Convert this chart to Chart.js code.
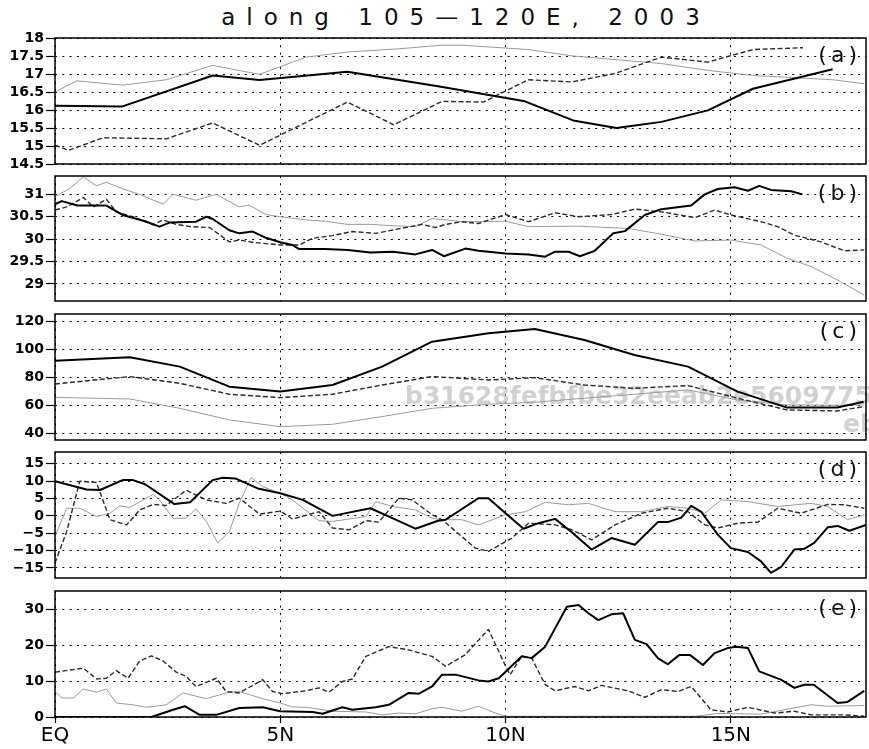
<!DOCTYPE html>
<html>
<head>
<meta charset="utf-8">
<script src="https://cdn.jsdelivr.net/npm/chart.js@4.4.1/dist/chart.umd.min.js"></script>
<style>
  body { margin: 0; background: #fff; width: 869px; height: 749px; position: relative; overflow: hidden; }
  #title { position: absolute; left: 55px; top: 4px; width: 811px; padding-left: 11px; box-sizing: border-box;
           text-align: center; font: 23px "DejaVu Sans"; letter-spacing: 11px; color: #111; white-space: nowrap; }
  canvas { position: absolute; left: 0; }
</style>
</head>
<body>
<div id="title">along 105—120E, 2003</div>
<canvas id="pa"></canvas>
<canvas id="pb"></canvas>
<canvas id="pc"></canvas>
<canvas id="pd"></canvas>
<canvas id="pe"></canvas>
<script>
// x axis: latitude along 105-120E
const xTicks = [0, 5, 10, 15];
const xLabels = ["EQ", "5N", "10N", "15N"];

// (a)
const yTicksA = [14.5, 15, 15.5, 16, 16.5, 17, 17.5, 18];
const aBlackLat = [0, 1.5, 3.5, 4.54, 6.49, 8.5, 10.43, 11.5, 12.46, 13.46, 14.49, 15.49, 17.26];
const aBlack = [16.12, 16.1, 16.96, 16.83, 17.06, 16.66, 16.24, 15.71, 15.5, 15.67, 15.99, 16.59, 17.13];
const aDashLat = [0, 0.3, 1.07, 2.47, 3.5, 4.54, 6.49, 7.52, 8.59, 9.51, 10.5, 11.47, 12.42, 13.46, 14.49, 15.49, 16.6];
const aDash = [15.02, 14.88, 15.23, 15.2, 15.64, 15.02, 16.22, 15.59, 16.24, 16.22, 16.84, 16.78, 17.01, 17.47, 17.33, 17.68, 17.73];
const aGrayLat = [0, 0.48, 1.5, 2.47, 3.5, 4.54, 5.57, 6.49, 7.63, 8.59, 9.03, 10.5, 11.5, 13.46, 14.49, 15.49, 17.26, 17.96];
const aGray = [16.5, 16.81, 16.69, 16.84, 17.24, 16.99, 17.47, 17.61, 17.7, 17.8, 17.8, 17.68, 17.5, 17.29, 17.1, 16.96, 16.84, 16.73];

// (b)
const yTicksB = [29, 29.5, 30, 30.5, 31];
const bBlackLat = [0, 0.15, 0.5, 1.14, 1.5, 2.0, 2.32, 2.54, 3.13, 3.36, 3.5, 3.87, 4.09, 4.39, 4.68, 5.0, 5.27, 5.42, 6.0, 6.5, 7.0, 7.5, 8.0, 8.37, 8.63, 9.11, 9.4, 10.0, 10.51, 10.88, 11.1, 11.4, 11.65, 11.98, 12.39, 12.65, 13.09, 13.46, 14.12, 14.42, 14.71, 15.08, 15.38, 15.63, 15.89, 16.34, 16.59];
const bBlack = [30.78, 30.85, 30.75, 30.75, 30.54, 30.4, 30.28, 30.37, 30.39, 30.5, 30.45, 30.2, 30.13, 30.17, 30.03, 29.93, 29.87, 29.78, 29.78, 29.76, 29.7, 29.72, 29.66, 29.76, 29.62, 29.79, 29.74, 29.68, 29.66, 29.61, 29.72, 29.72, 29.62, 29.74, 30.13, 30.18, 30.54, 30.67, 30.75, 31.0, 31.12, 31.16, 31.08, 31.19, 31.1, 31.07, 31.0];
const bDashLat = [0, 0.26, 0.63, 0.85, 1.14, 1.36, 1.73, 2.18, 2.4, 2.69, 3.0, 3.43, 3.87, 4.09, 4.39, 5.0, 5.42, 5.72, 6.16, 6.6, 7.12, 7.63, 8.15, 8.44, 8.67, 9.03, 9.4, 10.0, 10.51, 11.1, 11.62, 12.35, 12.87, 13.46, 14.2, 14.64, 15.0, 15.67, 16.04, 16.41, 17.0, 17.52, 17.96];
const bDash = [30.65, 30.72, 30.93, 30.72, 30.89, 30.61, 30.5, 30.32, 30.43, 30.33, 30.28, 30.26, 29.94, 29.98, 29.93, 29.87, 29.87, 30.02, 30.08, 30.17, 30.13, 30.23, 30.33, 30.26, 30.33, 30.39, 30.35, 30.55, 30.39, 30.59, 30.5, 30.55, 30.67, 30.61, 30.48, 30.65, 30.54, 30.39, 30.28, 30.09, 29.94, 29.74, 29.76];
const bGrayLat = [0, 0.33, 0.63, 0.92, 1.14, 1.51, 1.88, 2.4, 2.62, 3.13, 3.58, 4.09, 4.31, 4.68, 5.0, 5.57, 6.0, 6.5, 7.0, 7.5, 8.0, 8.37, 8.7, 9.03, 10.0, 10.51, 11.62, 12.72, 13.46, 14.2, 15.0, 15.67, 16.26, 16.78, 17.29, 17.96];
const bGray = [30.95, 31.13, 31.39, 31.19, 31.27, 31.12, 31.0, 30.78, 31.0, 30.87, 31.0, 30.72, 30.76, 30.55, 30.5, 30.43, 30.4, 30.33, 30.33, 30.3, 30.28, 30.46, 30.43, 30.39, 30.4, 30.28, 30.29, 30.24, 30.11, 29.96, 29.98, 29.87, 29.57, 29.39, 29.13, 28.75];

// (c)
const yTicksC = [40, 60, 80, 100, 120];
const cLat = [0, 1.66, 2.77, 3.87, 5.0, 6.16, 7.26, 8.37, 9.62, 10.65, 11.75, 12.86, 14.05, 15.15, 16.25, 17.36, 17.95];
const cBlack = [91.7, 94.1, 87.5, 73.2, 69.7, 74.4, 87.5, 105.3, 111.2, 114.3, 106.5, 95.8, 87.5, 69.7, 58.3, 58.3, 62.5];
const cDash = [75.1, 80.4, 75.6, 67.8, 65.4, 67.8, 74.4, 80.4, 78, 79.6, 74.4, 72, 74, 65, 56.6, 55.9, 59];
const cGray = [65.6, 64.4, 57.8, 49.5, 44.7, 46.4, 51.9, 57.8, 60.7, 62.1, 65, 67.8, 70.9, 63.7, 60.2, 60, 60.2];

// (d)
const yTicksD = [-15, -10, -5, 0, 5, 10, 15];
const dBlackLat = [0, 0.7, 1.0, 1.5, 1.73, 2.0, 2.65, 3.0, 3.5, 3.72, 4.0, 4.5, 5.0, 5.5, 6.16, 7.0, 7.5, 8.0, 8.5, 8.67, 9.0, 9.4, 9.62, 10.0, 10.4, 10.73, 11.1, 11.47, 11.91, 12.35, 12.87, 13.38, 13.6, 13.9, 14.12, 14.34, 14.71, 15.0, 15.38, 15.67, 15.89, 16.11, 16.41, 16.63, 16.85, 17.15, 17.37, 17.63, 18.0];
const dBlack = [10, 7.6, 7.45, 10.3, 10.3, 9.1, 3.4, 3.9, 10.3, 11, 10.8, 7.9, 6.5, 4.6, 0, 2.2, -0.7, -3.7, -1.4, -1.1, 1.7, 5.1, 5.1, 0.76, -3.7, -2.1, -0.86, -4.7, -9.7, -6.4, -8.3, -1.8, -1.8, -0.5, 2.9, 1.2, -5.4, -9.3, -10.4, -13.1, -16.4, -14.8, -9.7, -9.5, -7.8, -3.3, -2.9, -4.3, -2.6];
const dDashLat = [0, 0.26, 0.55, 0.92, 1.22, 1.59, 1.88, 2.18, 2.47, 2.91, 3.36, 3.8, 4.09, 4.54, 5.0, 5.27, 5.86, 6.16, 6.53, 6.9, 7.19, 7.63, 7.93, 8.37, 8.59, 9.33, 9.62, 10.14, 10.51, 11.1, 11.47, 11.91, 12.43, 13.02, 13.6, 14.05, 14.42, 14.71, 15.16, 15.6, 16.04, 16.56, 17.15, 17.52, 17.96];
const dDash = [-13.6, -4.5, 10, 9.6, -1.1, -2.6, 1.7, 3.3, 3.0, 7.4, 4.6, 3.6, 5.1, 0.5, 1.4, -0.9, 1.2, -3.5, -4.0, -1.4, -1.8, 5.1, 4.6, 0.3, -1.1, -9.3, -10.2, -6.4, -2.1, -2.6, -4.0, -6.9, -2.6, 0.76, 2.2, 1.2, -2.6, -3.5, -2.1, -1.8, 2.2, 0.76, 3.3, 3.2, 2.2];
const dGrayLat = [0, 0.26, 0.55, 0.92, 1.22, 1.44, 1.66, 2.18, 2.32, 2.62, 2.91, 3.13, 3.36, 3.61, 3.87, 4.09, 4.35, 4.61, 5.0, 5.27, 5.86, 6.16, 6.53, 6.9, 7.12, 7.49, 8.0, 8.37, 8.59, 9.03, 9.4, 10.0, 10.44, 10.88, 11.4, 11.84, 12.43, 13.02, 13.6, 14.05, 14.42, 14.79, 15.38, 16.04, 16.78, 17.15, 17.59, 17.96];
const dGray = [-5.9, 2.2, 2.2, -0.2, 0.76, 2.9, 2.4, 6.2, 4.6, -0.7, -0.7, 2.0, -1.6, -7.8, -4.5, 3.6, 11, 8.4, 6.5, 4.6, -1.4, -1.6, -0.9, -0.2, 4.1, 2.7, 1.7, -0.7, -1.1, -1.1, -2.6, 0.3, 1.2, 3.9, 3.2, 3.6, 1.2, 1.2, 2.7, 2.2, 0.76, 4.6, 4.1, 2.7, 3.6, 2.7, -1.1, 0.3];

// (e)
const yTicksE = [0, 10, 20, 30];
const eBlackLat = [0, 2.14, 2.62, 2.88, 3.21, 3.58, 4.09, 4.61, 5.0, 5.72, 5.94, 6.38, 6.6, 7.12, 7.41, 7.85, 8.08, 8.37, 8.59, 8.89, 9.4, 9.62, 9.85, 10.36, 10.58, 10.88, 11.36, 11.62, 11.84, 12.06, 12.35, 12.61, 12.87, 13.13, 13.38, 13.6, 13.86, 14.09, 14.38, 14.64, 14.93, 15.12, 15.38, 15.63, 16.11, 16.41, 16.63, 16.84, 17.37, 17.59, 17.96];
const eBlack = [0, 0, 2.0, 3.0, 0.6, 0.6, 2.5, 2.7, 1.6, 1.4, 0.9, 2.7, 2.0, 2.7, 3.4, 6.7, 6.5, 8.5, 11.8, 11.8, 10.2, 9.9, 10.8, 16.9, 16.4, 19.6, 30.7, 31.2, 28.9, 27.0, 28.6, 28.9, 21.5, 20.3, 16.4, 14.7, 17.3, 17.3, 14.5, 17.8, 19.2, 19.6, 19.2, 12.7, 10.4, 8.1, 9.0, 9.0, 3.9, 4.2, 7.3];
const eDashLat = [0, 0.63, 0.92, 1.14, 1.36, 1.62, 1.88, 2.14, 2.4, 2.69, 2.91, 3.13, 3.58, 3.8, 4.09, 4.61, 4.83, 5.05, 5.57, 5.86, 6.08, 6.38, 6.6, 6.9, 7.41, 7.85, 8.37, 8.67, 9.1, 9.62, 9.99, 10.1, 10.36, 10.58, 10.88, 11.1, 11.54, 11.84, 12.13, 12.72, 13.09, 13.46, 13.83, 14.12, 14.56, 14.93, 15.38, 15.97, 16.41, 16.78, 17.52, 17.96];
const eDash = [12.5, 13.6, 10.6, 10.8, 12.9, 10.8, 15.6, 17.0, 15.6, 12.5, 11.3, 8.5, 10.8, 7.1, 6.7, 10.4, 7.1, 6.5, 7.3, 8.1, 6.9, 9.9, 10.6, 16.9, 19.6, 18.7, 16.9, 14.1, 17.3, 24.4, 14.5, 11.8, 16.9, 16.4, 9.0, 7.3, 8.5, 7.3, 8.8, 7.3, 5.5, 7.6, 7.1, 8.5, 2.0, 1.4, 2.7, 1.1, 1.6, 0.6, 0.6, 0.2];
const eGrayLat = [0, 0.15, 0.41, 0.63, 0.92, 1.14, 1.36, 1.73, 2.03, 2.47, 2.84, 3.36, 3.8, 4.09, 4.61, 5.0, 5.27, 5.57, 6.16, 6.9, 7.26, 7.63, 8.0, 8.37, 8.59, 9.03, 9.4, 9.77, 10.0, 14.2, 14.71, 15.67, 16.78, 17.15, 17.96];
const eGray = [7.1, 5.3, 5.3, 7.8, 6.9, 7.8, 3.9, 3.4, 2.7, 3.4, 6.7, 5.1, 6.7, 7.1, 5.1, 3.9, 2.8, 2.7, 1.6, 1.4, 0.6, 1.1, 0.9, 2.3, 2.7, 1.6, 3.0, 1.1, 0.2, 0.2, 1.0, 0.8, 3.4, 3.0, 3.2];

const solid = { borderColor: "#000", borderWidth: 2 };
const dashed = { borderColor: "#2a2a2a", borderWidth: 1.4, borderDash: [5, 2.5] };
const thin = { borderColor: "#9a9a9a", borderWidth: 1 };

const PAD = 14;

function line(lat, val, style) {
  return {
    data: lat.map((x, i) => ({ x: x, y: val[i] })),
    pointRadius: 0, tension: 0, fill: false, borderJoinStyle: "round",
    ...style
  };
}

function fmt(v) {
  return v < 0 ? "\u2212" + Math.abs(v) : String(v);
}

// box around the plot, panel tag and the faint stamp seen in (c)
const framePlugin = {
  id: "frame",
  beforeDatasetsDraw(chart, args, opts) {
    if (!opts.stamp) return;
    const { ctx, chartArea: a } = chart;
    ctx.save();
    ctx.font = 'bold 25px "DejaVu Sans"';
    ctx.fillStyle = "rgba(185,185,185,0.65)";
    ctx.textBaseline = "alphabetic";
    ctx.fillText(opts.stamp[0], a.left + 350, a.top + 90);
    ctx.fillText(opts.stamp[1], a.left + 788, a.top + 118);
    ctx.restore();
  },
  afterDraw(chart, args, opts) {
    const { ctx, chartArea: a } = chart;
    ctx.save();
    ctx.strokeStyle = "#000";
    ctx.lineWidth = 1.5;
    ctx.strokeRect(a.left, a.top, a.right - a.left, a.bottom - a.top);
    ctx.font = '22px "DejaVu Sans"';
    ctx.letterSpacing = "4px";
    ctx.fillStyle = "#111";
    ctx.textAlign = "right";
    ctx.textBaseline = "middle";
    ctx.fillText(opts.tag, a.right - 5, a.top + 18.5);
    ctx.restore();
  }
};

function makePanel(id, top, height, yMin, yMax, yTicks, datasets, tag, bottom, stamp) {
  const canvas = document.getElementById(id);
  canvas.width = 869;
  canvas.height = PAD + height + (bottom ? 32 : PAD);
  canvas.style.top = (top - PAD) + "px";

  return new Chart(canvas, {
    type: "line",
    data: { datasets: datasets },
    plugins: [framePlugin],
    options: {
      responsive: false,
      animation: false,
      layout: { padding: { top: PAD, right: 3, bottom: bottom ? 0 : PAD, left: 0 } },
      plugins: {
        legend: { display: false },
        tooltip: { enabled: false },
        frame: { tag: tag, stamp: stamp }
      },
      scales: {
        x: {
          type: "linear", min: 0, max: 18,
          afterBuildTicks: s => { s.ticks = xTicks.map(v => ({ value: v })); },
          afterFit: s => { s.height = bottom ? 32 : 0; },
          grid: { color: "#000", lineWidth: 1, drawTicks: bottom, tickLength: 6, tickColor: "#000", tickWidth: 1.2 },
          border: { display: false, dash: [2, 5.3] },
          ticks: {
            display: bottom, autoSkip: false, maxRotation: 0, padding: 1,
            color: "#000", font: { family: "DejaVu Sans", size: 20 },
            callback: (v, i) => xLabels[i]
          }
        },
        y: {
          min: yMin, max: yMax,
          afterBuildTicks: s => { s.ticks = yTicks.map(v => ({ value: v })); },
          afterFit: s => { s.width = 55; },
          grid: { color: "#000", lineWidth: 1, tickLength: 9, tickColor: "#000", tickWidth: 1.2 },
          border: { display: false, dash: [2, 5.3] },
          ticks: {
            autoSkip: false, padding: 2, color: "#000",
            font: { family: "DejaVu Sans", size: 14, weight: "bold" },
            callback: v => fmt(v)
          }
        }
      }
    }
  });
}

makePanel("pa", 38, 126, 14.5, 18, yTicksA, [
  line(aBlackLat, aBlack, solid),
  line(aDashLat, aDash, dashed),
  line(aGrayLat, aGray, thin)
], "(a)", false);

makePanel("pb", 176, 125, 28.62, 31.41, yTicksB, [
  line(bBlackLat, bBlack, solid),
  line(bDashLat, bDash, dashed),
  line(bGrayLat, bGray, thin)
], "(b)", false);

makePanel("pc", 314, 126, 35.2, 125, yTicksC, [
  line(cLat, cBlack, solid),
  line(cLat, cDash, dashed),
  line(cLat, cGray, thin)
], "(c)", false, ["b31628fefbfbe32eeab2e56097751", "eb"]);

makePanel("pd", 452, 126, -17.9, 18.4, yTicksD, [
  line(dBlackLat, dBlack, solid),
  line(dDashLat, dDash, dashed),
  line(dGrayLat, dGray, thin)
], "(d)", false);

makePanel("pe", 591, 126, 0, 35.1, yTicksE, [
  line(eBlackLat, eBlack, solid),
  line(eDashLat, eDash, dashed),
  line(eGrayLat, eGray, thin)
], "(e)", true);
</script>
</body>
</html>
